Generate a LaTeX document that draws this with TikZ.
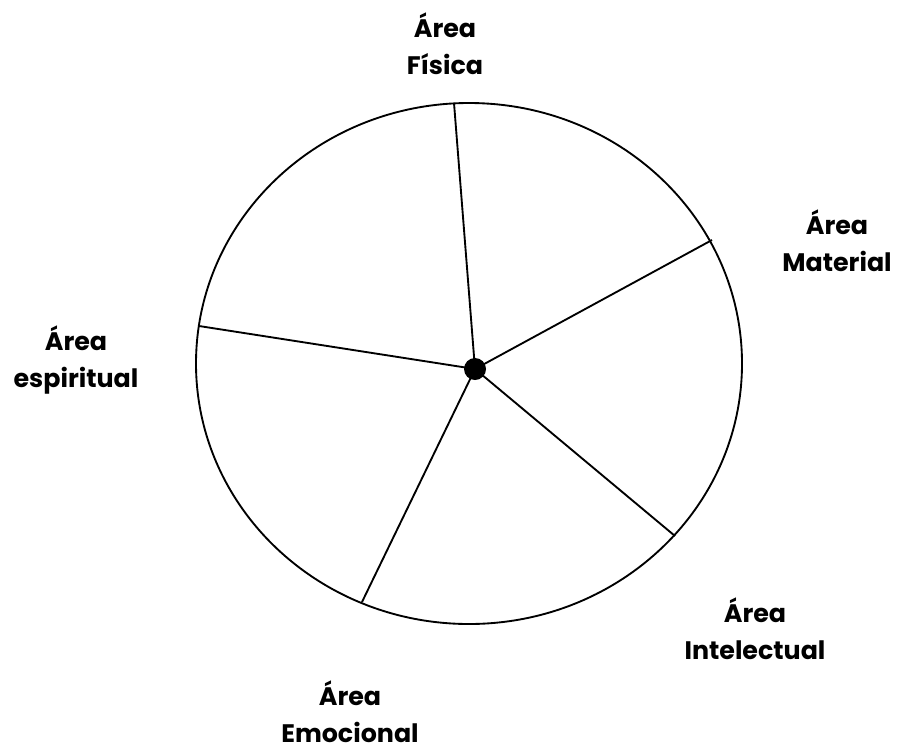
\documentclass[tikz,border=0pt]{standalone}
\usepackage{fontspec}
\setmainfont{Poppins}
\usepackage{tikz}
\usetikzlibrary{calc}
\tikzset{
  rim/.style={line width=1.4pt,black},
  spoke/.style={line width=1.4pt,black},
  area/.style={font=\fontsize{19}{27.75}\selectfont\bfseries,align=center,anchor=base,inner sep=0pt}
}
\begin{document}
\begin{tikzpicture}[x=0.75pt,y=-0.75pt]
\useasboundingbox (0,0) rectangle (899,754);
\draw[rim] (469,363.5) ellipse [x radius=273,y radius=260.5];
% hub and spoke ends on the rim
\coordinate (hub) at (475,369);
\coordinate (fis) at (454,103);
\coordinate (mat) at (712,240);
\coordinate (int) at (675,536);
\coordinate (emo) at (362,602);
\coordinate (esp) at (199,326);
\foreach \e in {fis,mat,int,emo,esp}
  \draw[spoke] (hub) -- (\e);
\fill (hub) circle (11);
% labels
\node[area] (lfis) at (445,74) {Área\\Física};
\node[area] (lmat) at (837,271) {Área\\Material};
\node[area] (lint) at (755,659) {Área\\Intelectual};
\node[area] (lemo) at (350,742) {Área\\Emocional};
\node[area] (lesp) at (76,387) {Área\\espiritual};
\end{tikzpicture}
\end{document}
